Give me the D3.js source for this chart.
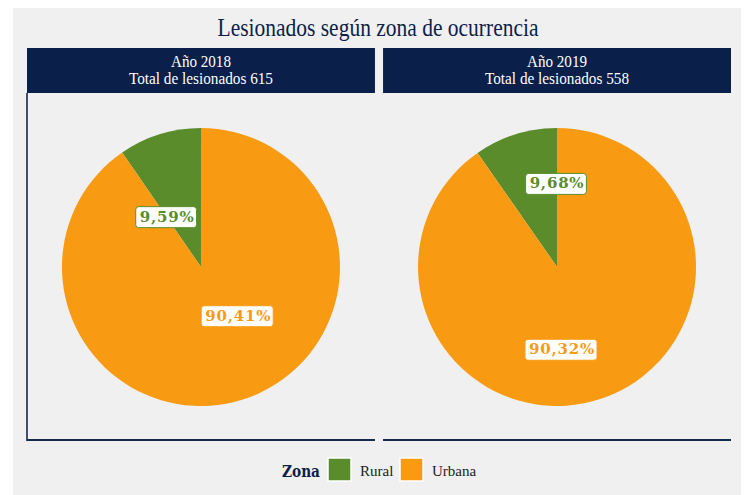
<!DOCTYPE html>
<html><head><meta charset="utf-8">
<script src="https://cdn.jsdelivr.net/npm/d3@7"></script>
<style>body{margin:0;background:#fff}svg{display:block}</style>
</head><body>
<svg id="c" width="747" height="495"></svg>
<script>
const title = "Lesionados según zona de ocurrencia";
const years = ["Año 2018", "Año 2019"];
const totals = [615, 558];
const categories = ["Rural", "Urbana"];
const values2018 = [9.59, 90.41];
const values2019 = [9.68, 90.32];
const labels2018 = ["9,59%", "90,41%"];
const labels2019 = ["9,68%", "90,32%"];
const legendTitle = "Zona";

const colors = d3.scaleOrdinal().domain(categories).range(["#5b8c2b", "#f99b12"]);
const navy = "#0b1f4b";
const serif = "'Liberation Serif', 'Times New Roman', serif";

const svg = d3.select("#c");
svg.append("rect").attr("x",13).attr("y",8).attr("width",728).attr("height",487).attr("fill","#f0f0f0");

svg.append("text").attr("x",378).attr("y",36).attr("text-anchor","middle")
  .attr("font-family",serif).attr("font-size",25).attr("fill",navy)
  .attr("textLength",321).attr("lengthAdjust","spacingAndGlyphs").text(title);

const panels = d3.scaleBand().domain(years).range([27,731]).paddingInner(0.0227);
const panelData = [
  {year: years[0], total: totals[0], values: values2018, labels: labels2018,
   labelPos: [[-33.7, 61],[142.4, 61]]},
  {year: years[1], total: totals[1], values: values2019, labels: labels2019,
   labelPos: [[0, 84],[176.5, 82]]}
];
const panelTop = 48, headerH = 45, panelBottom = 440;
const r = 139;

panelData.forEach((p,i)=>{
  const x0 = panels(p.year), w = panels.bandwidth();
  const g = svg.append("g");
  g.append("rect").attr("x",x0).attr("y",panelTop).attr("width",w).attr("height",headerH).attr("fill","#0a1f4a");
  const l1 = "Total de lesionados " + p.total;
  g.append("text").attr("x",x0+w/2).attr("y",67).attr("text-anchor","middle")
    .attr("font-family",serif).attr("font-size",16).attr("fill","#fff")
    .attr("textLength",60).attr("lengthAdjust","spacingAndGlyphs").text(p.year);
  g.append("text").attr("x",x0+w/2).attr("y",84).attr("text-anchor","middle")
    .attr("font-family",serif).attr("font-size",16).attr("fill","#fff")
    .attr("textLength",144).attr("lengthAdjust","spacingAndGlyphs").text(l1);
  g.append("line").attr("x1",x0).attr("x2",x0+w).attr("y1",panelBottom).attr("y2",panelBottom)
    .attr("stroke","#17294f").attr("stroke-width",2);
  if(i===0){
    g.append("line").attr("x1",x0).attr("x2",x0).attr("y1",panelTop+headerH).attr("y2",panelBottom+1)
      .attr("stroke","#17294f").attr("stroke-width",1.6);
  }
  const cx = x0 + w/2, cy = 267;
  const pie = d3.pie().sort(null).value(d=>d.v)
    .startAngle(-2*Math.PI*p.values[0]/100).endAngle(2*Math.PI - 2*Math.PI*p.values[0]/100);
  const data = categories.map((c,k)=>({c, v:p.values[k], label:p.labels[k], pos:p.labelPos[k]}));
  const arcs = pie(data);
  const arc = d3.arc().innerRadius(0).outerRadius(r);
  const pg = g.append("g").attr("transform",`translate(${cx},${cy})`);
  pg.selectAll("path").data(arcs).enter().append("path")
    .attr("d",arc).attr("fill",d=>colors(d.data.c));
  arcs.forEach(a=>{
    const ang = a.data.pos[0]*Math.PI/180, rr = a.data.pos[1];
    const lx = rr*Math.sin(ang), ly = -rr*Math.cos(ang);
    const lgp = pg.append("g").attr("transform",`translate(${lx},${ly})`);
    const t = lgp.append("text").attr("text-anchor","middle").attr("dy","0.36em")
      .attr("font-family","'DejaVu Serif', serif").attr("font-weight","bold").attr("font-size",15)
      .attr("letter-spacing",0.8)
      .attr("fill",colors(a.data.c)).text(a.data.label);
    const bb = t.node().getBBox();
    lgp.insert("rect","text").attr("x",bb.x-4).attr("y",bb.y-1).attr("width",bb.width+6).attr("height",bb.height+3)
      .attr("rx",3).attr("fill","#fff").attr("stroke",colors(a.data.c)).attr("stroke-width",1);
  });
});

const lg = svg.append("g");
lg.append("text").attr("x",282).attr("y",477).attr("font-family","'DejaVu Serif', serif").attr("font-weight","bold")
  .attr("font-size",17).attr("fill",navy).attr("textLength",38).attr("lengthAdjust","spacingAndGlyphs").text(legendTitle);
const legX = d3.scaleOrdinal().domain(categories).range([328, 400]);
categories.forEach(c=>{
  lg.append("rect").attr("x",legX(c)).attr("y",458).attr("width",23).attr("height",23)
    .attr("fill",colors(c)).attr("stroke","#fff").attr("stroke-width",1.5);
  lg.append("text").attr("x",legX(c)+32).attr("y",476).attr("font-family",serif)
    .attr("font-size",15).attr("fill","#222").text(c);
});
</script>
</body></html>
